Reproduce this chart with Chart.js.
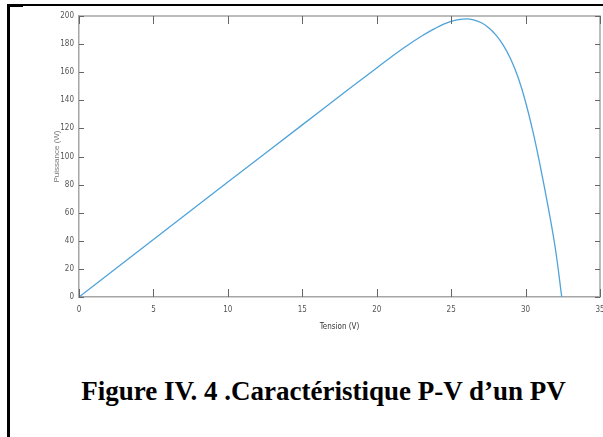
<!DOCTYPE html>
<html>
<head>
<meta charset="utf-8">
<script src="https://cdn.jsdelivr.net/npm/chart.js@4"></script>
<style>
    body { margin: 0; width: 603px; height: 437px; background: #fff; position: relative; overflow: hidden; }
    #wrap { position: absolute; left: 0; top: 0; width: 603px; height: 335px; }
    .frame-left { position: absolute; left: 7px; top: 4px; width: 3px; height: 433px; background: #000; }
    .frame-top { position: absolute; left: 7px; top: 4px; width: 596px; height: 2px; background: #000; }
    .frame-corner { position: absolute; left: 7px; top: 4px; width: 16px; height: 3px; background: #000; }
    #caption {
        position: absolute; left: 0; width: 603px; top: 375px; text-align: center; line-height: 32px;
        font-family: "Liberation Serif", "Times New Roman", serif; font-weight: bold; font-size: 27px; color: #000;
        padding-left: 44px; box-sizing: border-box; white-space: nowrap;
    }
</style>
</head>
<body>
<div class="frame-left"></div>
<div class="frame-top"></div>
<div class="frame-corner"></div>
<div id="wrap"><canvas id="pvChart"></canvas></div>
<div id="caption">Figure IV. 4 .Caractéristique P-V d’un PV</div>
<script>
const tension = [0, 5, 10, 15, 18, 20, 21, 22, 23, 24, 24.5, 25, 25.5, 26, 26.5, 27, 27.5, 28, 28.5, 29, 29.5, 30, 30.5, 31, 31.5, 32, 32.43];
const puissance = [0, 40.9, 81.8, 122.5, 147, 163, 171, 178.6, 185.6, 191.6, 194.2, 196.2, 197.4, 197.9, 197.3, 195.4, 191.9, 186.6, 179.3, 169.4, 156.2, 138.8, 117.5, 92.5, 65, 34.5, 0];

const xTicks = [0, 5, 10, 15, 20, 25, 30, 35];
const yTicks = [0, 20, 40, 60, 80, 100, 120, 140, 160, 180, 200];

const points = tension.map((v, i) => ({ x: v, y: puissance[i] }));

const axisFont = { family: "'DejaVu Sans Condensed', 'Liberation Sans Narrow', 'Liberation Sans', sans-serif", size: 8 };

// MATLAB style box with inward ticks
const boxTicks = {
    id: 'boxTicks',
    afterDraw(chart) {
        const { ctx, chartArea: a, scales } = chart;
        ctx.save();
        ctx.strokeStyle = '#a6a6a6';
        ctx.lineWidth = 1.5;
        ctx.beginPath();
        ctx.moveTo(a.left, a.top);
        ctx.lineTo(a.right, a.top);
        ctx.lineTo(a.right, a.bottom);
        ctx.stroke();

        ctx.strokeStyle = '#666';
        ctx.lineWidth = 1;
        ctx.beginPath();
        for (const t of xTicks) {
            const px = Math.round(scales.x.getPixelForValue(t)) + 0.5;
            ctx.moveTo(px, a.bottom);
            ctx.lineTo(px, a.bottom - 8);
            ctx.moveTo(px, a.top);
            ctx.lineTo(px, a.top + 8);
        }
        for (const t of yTicks) {
            const py = Math.round(scales.y.getPixelForValue(t)) + 0.5;
            ctx.moveTo(a.left, py);
            ctx.lineTo(a.left + 5, py);
            ctx.moveTo(a.right, py);
            ctx.lineTo(a.right - 5, py);
        }
        ctx.stroke();
        ctx.restore();
    }
};

const ctx = document.getElementById('pvChart').getContext('2d');

new Chart(ctx, {
    type: 'scatter',
    data: {
        datasets: [{
            data: points,
            showLine: true,
            borderColor: '#4fa3da',
            borderWidth: 1.3,
            pointRadius: 0,
            tension: 0.4
        }]
    },
    options: {
        responsive: true,
        maintainAspectRatio: false,
        animation: false,
        layout: { padding: { left: 52, right: 3, top: 16, bottom: 0 } },
        plugins: {
            legend: { display: false },
            tooltip: { enabled: false }
        },
        scales: {
            x: {
                type: 'linear',
                min: 0,
                max: 35,
                afterBuildTicks: (scale) => { scale.ticks = xTicks.map(v => ({ value: v })); },
                afterFit: (scale) => {
                    scale.height = 38;
                    scale.paddingLeft = 0;
                    scale.paddingRight = 0;
                },
                grid: { display: false, drawTicks: false },
                border: { display: true, color: '#a6a6a6', width: 1.5 },
                ticks: { color: '#555', font: axisFont, padding: 8, maxRotation: 0 },
                title: { display: true, text: 'Tension (V)', color: '#333', font: axisFont, padding: { top: 0, bottom: 3 } }
            },
            y: {
                min: 0,
                max: 200,
                afterBuildTicks: (scale) => { scale.ticks = yTicks.map(v => ({ value: v })); },
                afterFit: (scale) => {
                    scale.width = 27;
                    scale.paddingTop = 0;
                    scale.paddingBottom = 0;
                },
                grid: { display: false, drawTicks: false },
                border: { display: true, color: '#a6a6a6', width: 1.5 },
                ticks: { color: '#555', font: axisFont, padding: 5 },
                title: { display: true, text: 'Puissance (W)', color: '#777', font: { family: "'Liberation Sans', Arial, sans-serif", size: 8 }, padding: { top: 0, bottom: 0 } }
            }
        }
    },
    plugins: [boxTicks]
});
</script>
</body>
</html>
